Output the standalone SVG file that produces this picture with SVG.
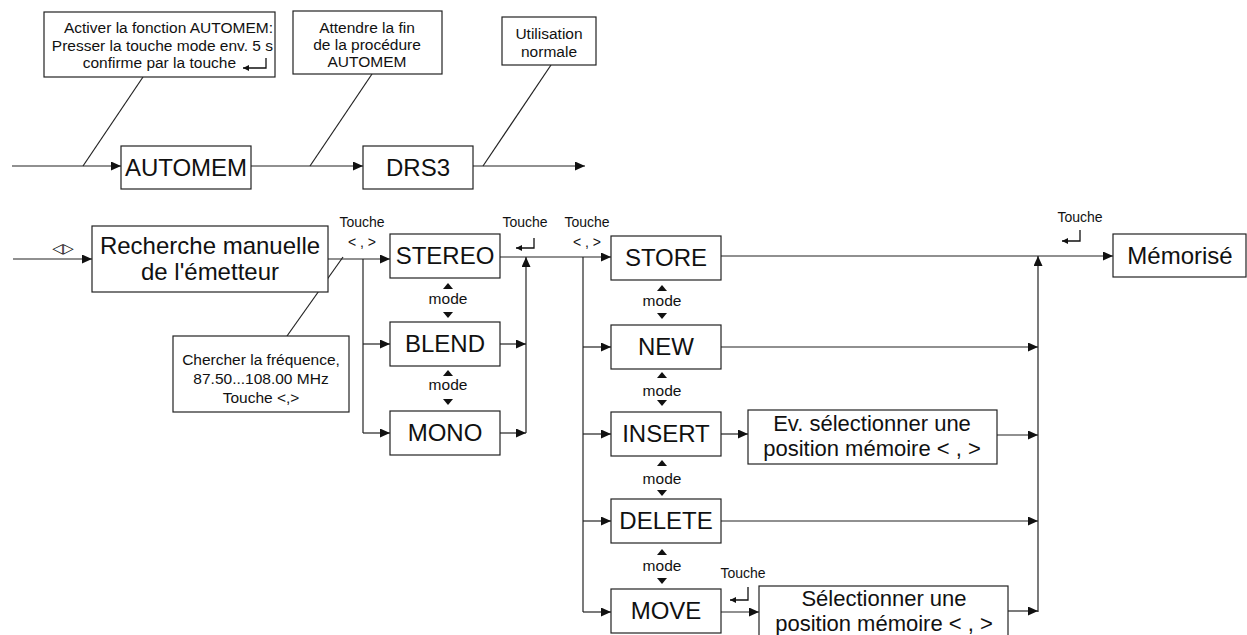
<svg xmlns="http://www.w3.org/2000/svg" width="1247" height="635" viewBox="0 0 1247 635">
<defs>
<style>
.box{fill:#fff;stroke:#222;stroke-width:1.2}
.ln{fill:none;stroke:#222;stroke-width:1.2}
.ar{fill:none;stroke:#222;stroke-width:1.2;marker-end:url(#ah)}
.big{font-family:"Liberation Sans",Arial,sans-serif;font-size:24px;fill:#111;text-anchor:middle}
.mid{font-family:"Liberation Sans",Arial,sans-serif;font-size:22px;fill:#111;text-anchor:middle}
.sm{font-family:"Liberation Sans",Arial,sans-serif;font-size:15.5px;fill:#111;text-anchor:middle}
.lb{font-family:"Liberation Sans",Arial,sans-serif;font-size:14px;fill:#111;text-anchor:middle}
.tri{fill:#111}
.ret{fill:none;stroke:#111;stroke-width:1.3;marker-end:url(#rh)}
</style>
<marker id="ah" markerUnits="userSpaceOnUse" markerWidth="12" markerHeight="12" refX="10" refY="4.5" orient="auto">
<path d="M0,0 L10,4.5 L0,9 z" fill="#111"/>
</marker>
<marker id="rh" markerUnits="userSpaceOnUse" markerWidth="8" markerHeight="8" refX="6" refY="3" orient="auto">
<path d="M0,0 L6,3 L0,6 z" fill="#111"/>
</marker>
<path id="up" d="M-5,6 L5,6 L0,0 z"/>
<path id="dn" d="M-5,0 L5,0 L0,6 z"/>
</defs>

<g id="connectors">
<line class="ln" x1="143" y1="77" x2="83" y2="166"/>
<line class="ar" x1="12" y1="166" x2="121" y2="166"/>
<line class="ar" x1="251" y1="166" x2="363" y2="166"/>
<line class="ln" x1="372" y1="74" x2="310" y2="166"/>
<line class="ln" x1="551" y1="65" x2="483" y2="166"/>
<line class="ar" x1="473" y1="166" x2="585" y2="166"/>

<line class="ar" x1="13" y1="259" x2="92" y2="259"/>
<line class="ar" x1="328" y1="259" x2="390" y2="259"/>
<line class="ln" x1="343" y1="257" x2="287" y2="336"/>
<path class="ln" d="M363,259 V433"/>
<line class="ar" x1="363" y1="344" x2="390" y2="344"/>
<line class="ar" x1="363" y1="433" x2="390" y2="433"/>

<line class="ar" x1="500" y1="257" x2="611" y2="257"/>
<line class="ar" x1="526" y1="433" x2="526" y2="257"/>
<line class="ar" x1="500" y1="344" x2="526" y2="344"/>
<line class="ar" x1="500" y1="433" x2="526" y2="433"/>

<path class="ln" d="M583,257 V612"/>
<line class="ar" x1="583" y1="347" x2="611" y2="347"/>
<line class="ar" x1="583" y1="434" x2="611" y2="434"/>
<line class="ar" x1="583" y1="521" x2="611" y2="521"/>
<line class="ar" x1="583" y1="612" x2="611" y2="612"/>

<line class="ar" x1="721" y1="434" x2="748" y2="434"/>
<line class="ar" x1="721" y1="612" x2="759" y2="612"/>

<line class="ar" x1="721" y1="256" x2="1113" y2="256"/>
<line class="ar" x1="721" y1="347" x2="1038" y2="347"/>
<line class="ar" x1="997" y1="435" x2="1038" y2="435"/>
<line class="ar" x1="721" y1="521" x2="1038" y2="521"/>
<line class="ar" x1="1008" y1="611" x2="1038" y2="611"/>
<line class="ar" x1="1038" y1="612" x2="1038" y2="256"/>
</g>

<g id="labels">
<text class="lb" x="362" y="227">Touche</text>
<text class="lb" x="362" y="247">&lt; , &gt;</text>
<text class="lb" x="525" y="227">Touche</text>
<path class="ret" d="M534,238 V248 H516"/>
<text class="lb" x="587" y="227">Touche</text>
<text class="lb" x="587" y="247">&lt; , &gt;</text>
<text class="lb" x="1080" y="222">Touche</text>
<path class="ret" d="M1080,230 V241 H1062"/>
<text class="lb" x="743" y="578">Touche</text>
<path class="ret" d="M748,587 V600 H730"/>
<text x="63" y="253" style="font-family:'DejaVu Sans',sans-serif;font-size:14px;fill:#111;text-anchor:middle">◁▷</text>

<g id="mode1"><use href="#up" class="tri" x="448" y="283"/><text class="sm" x="448" y="304">mode</text><use href="#dn" class="tri" x="448" y="312"/></g>
<g id="mode2"><use href="#up" class="tri" x="448" y="370"/><text class="sm" x="448" y="390">mode</text><use href="#dn" class="tri" x="448" y="399"/></g>
<g id="mode3"><use href="#up" class="tri" x="662" y="285"/><text class="sm" x="662" y="306">mode</text><use href="#dn" class="tri" x="662" y="313"/></g>
<g id="mode4"><use href="#up" class="tri" x="662" y="372"/><text class="sm" x="662" y="396">mode</text><use href="#dn" class="tri" x="662" y="400"/></g>
<g id="mode5"><use href="#up" class="tri" x="662" y="460"/><text class="sm" x="662" y="484">mode</text><use href="#dn" class="tri" x="662" y="490"/></g>
<g id="mode6"><use href="#up" class="tri" x="662" y="549"/><text class="sm" x="662" y="571">mode</text><use href="#dn" class="tri" x="662" y="578"/></g>
</g>

<g id="note-automem">
<rect class="box" x="44" y="12" width="231" height="65"/>
<text class="sm" x="273" y="33" style="text-anchor:end">Activer la fonction AUTOMEM:</text>
<text class="sm" x="273" y="51" style="text-anchor:end">Presser la touche mode env. 5 s</text>
<text class="sm" x="236" y="68" style="text-anchor:end">confirme par la touche</text>
<path class="ret" d="M266,58 V68 H243"/>
</g>
<g id="note-attendre">
<rect class="box" x="293" y="11" width="149" height="63"/>
<text class="sm" x="367" y="33">Attendre la fin</text>
<text class="sm" x="367" y="50">de la procédure</text>
<text class="sm" x="367" y="67">AUTOMEM</text>
</g>
<g id="note-utilisation">
<rect class="box" x="502" y="17" width="94" height="48"/>
<text class="sm" x="549" y="39">Utilisation</text>
<text class="sm" x="549" y="57">normale</text>
</g>
<g id="automem">
<rect class="box" x="121" y="146" width="130" height="43"/>
<text class="big" x="186" y="176">AUTOMEM</text>
</g>
<g id="drs3">
<rect class="box" x="363" y="146" width="110" height="43"/>
<text class="big" x="418" y="176">DRS3</text>
</g>

<g id="recherche">
<rect class="box" x="92" y="226" width="236" height="66"/>
<text class="big" x="210" y="254">Recherche manuelle</text>
<text class="big" x="210" y="280">de l'émetteur</text>
</g>
<g id="note-chercher">
<rect class="box" x="173" y="336" width="176" height="76"/>
<text class="sm" x="261" y="365">Chercher la fréquence,</text>
<text class="sm" x="261" y="384">87.50...108.00 MHz</text>
<text class="sm" x="261" y="403">Touche &lt;,&gt;</text>
</g>
<g id="stereo">
<rect class="box" x="390" y="234" width="110" height="44"/>
<text class="big" x="445" y="264">STEREO</text>
</g>
<g id="blend">
<rect class="box" x="390" y="322" width="110" height="44"/>
<text class="big" x="445" y="352">BLEND</text>
</g>
<g id="mono">
<rect class="box" x="390" y="411" width="110" height="44"/>
<text class="big" x="445" y="441">MONO</text>
</g>

<g id="store">
<rect class="box" x="611" y="236" width="110" height="44"/>
<text class="big" x="666" y="266">STORE</text>
</g>
<g id="new">
<rect class="box" x="611" y="325" width="110" height="44"/>
<text class="big" x="666" y="355">NEW</text>
</g>
<g id="insert">
<rect class="box" x="611" y="412" width="110" height="44"/>
<text class="big" x="666" y="442">INSERT</text>
</g>
<g id="delete">
<rect class="box" x="611" y="499" width="110" height="44"/>
<text class="big" x="666" y="529">DELETE</text>
</g>
<g id="move">
<rect class="box" x="611" y="589" width="110" height="44"/>
<text class="big" x="666" y="619">MOVE</text>
</g>
<g id="ev-selection">
<rect class="box" x="748" y="410" width="249" height="54"/>
<text class="mid" x="872" y="431">Ev. sélectionner une</text>
<text class="mid" x="872" y="456">position mémoire &lt; , &gt;</text>
</g>
<g id="selection">
<rect class="box" x="759" y="586" width="249" height="60"/>
<text class="mid" x="884" y="606">Sélectionner une</text>
<text class="mid" x="884" y="631">position mémoire &lt; , &gt;</text>
</g>
<g id="memorise">
<rect class="box" x="1113" y="234" width="133" height="43"/>
<text class="big" x="1180" y="264">Mémorisé</text>
</g>
</svg>
